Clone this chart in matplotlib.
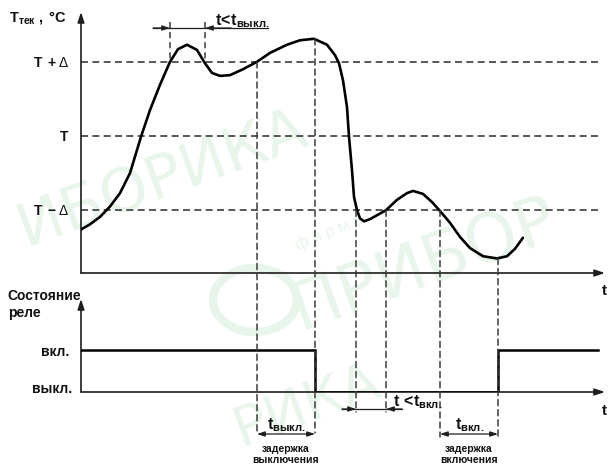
import matplotlib
matplotlib.use('Agg')
import matplotlib.pyplot as plt
from matplotlib.patches import ConnectionPatch, Circle

plt.rcParams['font.family'] = ['Liberation Sans', 'DejaVu Sans']
plt.rcParams['mathtext.fontset'] = 'custom'
plt.rcParams['mathtext.rm'] = 'Liberation Sans'
plt.rcParams['mathtext.bf'] = 'Liberation Sans:bold'
plt.rcParams['mathtext.it'] = 'Liberation Sans:italic'

# ---------------- data ----------------
# temperature curve: time (arb. units), temperature in units of delta around setpoint T
curve_t = [0.0, 0.9, 1.9, 2.9, 3.9, 4.9, 6.0, 6.9, 7.9, 8.9, 9.7, 10.6, 11.6, 12.4,
           13.1, 13.9, 14.9, 16.2, 17.6, 18.9, 20.6, 21.9, 23.3, 24.6, 25.4, 25.8,
           26.2, 26.6, 26.8, 27.1, 27.3, 27.6, 27.9, 28.3, 28.9, 29.7, 30.5, 31.6,
           32.6, 33.2, 34.2, 35.1, 35.9, 36.9, 37.9, 38.9, 40.2, 41.6, 42.6, 43.4, 44.2]
curve_T = [-1.26, -1.19, -1.09, -0.95, -0.77, -0.50, -0.01, 0.35, 0.69, 1.00, 1.17,
           1.23, 1.16, 0.98, 0.85, 0.81, 0.82, 0.90, 1.00, 1.12, 1.23, 1.29, 1.31,
           1.23, 1.09, 0.98, 0.75, 0.39, -0.01, -0.46, -0.82, -1.00, -1.11, -1.15,
           -1.12, -1.06, -1.00, -0.86, -0.77, -0.74, -0.78, -0.89, -1.01, -1.17,
           -1.36, -1.51, -1.62, -1.65, -1.62, -1.52, -1.37]

levels = [1, 0, -1]
level_labels = [r'$\mathbf{T\ +}\mathrm{Δ}$', r'$\mathbf{T}$', r'$\mathbf{T\ -}\mathrm{Δ}$']

relay_t = [0, 23.4, 23.4, 41.7, 41.7, 51.7]
relay_state = [1, 1, 0, 0, 1, 1]
state_labels = ['вкл.', 'выкл.']

# event times and temperature at which the dashed marker starts
marker_t = [17.6, 23.4, 27.5, 30.5, 35.9, 41.7]
marker_T = [1.0, 1.31, -1.0, -1.0, -1.0, -1.65]
short_t = [8.9, 12.4]          # short overshoot above T+delta (no switching)

# ---------------- figure ----------------
W, H = 610, 465
fig = plt.figure(figsize=(W / 100, H / 100), dpi=100)
fig.patch.set_facecolor('white')


def P(x, y):
    return x / W, 1 - y / H


def add_axes_px(x0, y0, x1, y1):
    return fig.add_axes([x0 / W, 1 - y1 / H, (x1 - x0) / W, (y1 - y0) / H])


AX_COL = '#1e1e1e'
DASH_COL = '#3c3c3c'
DASH = (0, (4.2, 2.6))

# watermark (faint, behind everything)
wm = '#e8f5ea'
wkw = dict(color=wm, rotation=20, rotation_mode='anchor', family='DejaVu Sans',
           zorder=-5)
fig.text(*P(26, 246), 'ИБОРИКА', fontsize=44, **wkw)
fig.text(*P(300, 330), 'ПРИБОР', fontsize=48, **wkw)
fig.text(*P(240, 446), 'РИКА', fontsize=40, **wkw)
fig.text(*P(298, 250), 'ф и р м а', fontsize=12, color=wm, rotation=22,
         rotation_mode='anchor', zorder=-5)
fig.patches.append(Circle(P(255, 300), 42 / W, transform=fig.transFigure,
                          fill=False, ec=wm, lw=6, zorder=-5))

# top axes: temperature
ax1 = add_axes_px(81, 12, 605, 273)
ax1.set_xlim(0, 52.4)
ax1.set_ylim(-1.846, 1.671)
ax1.axis('off')
ax1.patch.set_alpha(0)

# bottom axes: relay state
ax2 = add_axes_px(81, 299, 605, 392)
ax2.set_xlim(0, 52.4)
ax2.set_ylim(0, 2.214)
ax2.axis('off')
ax2.patch.set_alpha(0)


def arrow(ax, x0, y0, x1, y1, style='-|>', hl=0.6, hw=0.2, lw=1.2, col=AX_COL):
    ax.annotate('', xy=(x1, y1), xytext=(x0, y0), annotation_clip=False,
                arrowprops=dict(arrowstyle=f'{style},head_length={hl},head_width={hw}',
                                lw=lw, color=col, shrinkA=0, shrinkB=0,
                                mutation_scale=10))


# axes with arrows
yb1 = ax1.get_ylim()[0]
arrow(ax1, 0, yb1, 0, ax1.get_ylim()[1])
arrow(ax1, 0, yb1, 52.4, yb1)
arrow(ax2, 0, 0, 0, 2.214)
arrow(ax2, 0, 0, 52.4, 0)

# horizontal threshold lines
for lvl in levels:
    ax1.plot([0, 51.7], [lvl, lvl], color=DASH_COL, lw=1.2, linestyle=DASH, zorder=2)

# temperature curve
ax1.plot(curve_t, curve_T, color='black', lw=1.9, solid_joinstyle='round',
         solid_capstyle='round', zorder=4)

# relay state
ax2.plot(relay_t, relay_state, color='black', lw=1.8, zorder=4,
         solid_joinstyle='miter')

# vertical dashed event markers running down into the relay chart
lower_ends = [-0.976, -0.976, -0.476, -0.476, -1.07, -1.07]
for t, Tv, yl in zip(marker_t, marker_T, lower_ends):
    con = ConnectionPatch(xyA=(t, Tv), coordsA=ax1.transData,
                          xyB=(t, yl), coordsB=ax2.transData,
                          color=DASH_COL, lw=1.1, linestyle=(0, (4.0, 2.6)), zorder=1)
    fig.add_artist(con)

for t in short_t:
    ax1.plot([t, t], [1.54, 1.0], color=DASH_COL, lw=1.1, linestyle=(0, (4.0, 2.6)),
             zorder=2, clip_on=False)

# top short-overshoot annotation
ya = 1.455
ax1.plot([7.2, 18.7], [ya, ya], color=AX_COL, lw=0.9, clip_on=False)
arrow(ax1, 7.2, ya, short_t[0], ya, hl=0.45, hw=0.15, lw=0.9)
arrow(ax1, 15.0, ya, short_t[1], ya, hl=0.45, hw=0.15, lw=0.9)

# bottom short-undershoot annotation
yb = -0.405
ax2.plot([26.1, 32.1], [yb, yb], color=AX_COL, lw=0.9, clip_on=False)
arrow(ax2, 26.1, yb, marker_t[2], yb, hl=0.45, hw=0.15, lw=0.9)
arrow(ax2, 32.1, yb, marker_t[3], yb, hl=0.45, hw=0.15, lw=0.9)

# delay double arrows
yd = -1.0
arrow(ax2, marker_t[0], yd, marker_t[1], yd, style='<|-|>', hl=0.45, hw=0.15, lw=0.9)
arrow(ax2, marker_t[4], yd, marker_t[5], yd, style='<|-|>', hl=0.45, hw=0.15, lw=0.9)

# ---------------- texts ----------------
TXT = '#111111'
fig.text(*P(9, 22), r'$\mathbf{T}_{\mathbf{тек}}\mathbf{\ ,\ °C}$', fontsize=10.5,
         color=TXT, va='baseline', ha='left')
for lbl, by in zip(level_labels, [67, 141, 215]):
    fig.text(*P(69, by), lbl, fontsize=10, color=TXT, va='baseline', ha='right')

fig.text(*P(7, 300), 'Состояние', fontsize=10, weight='bold', color=TXT, va='baseline')
fig.text(*P(8, 317), 'реле', fontsize=10, weight='bold', color=TXT, va='baseline')
for lbl, bx, by in zip(state_labels, [69, 72], [356, 393]):
    fig.text(*P(bx, by), lbl, fontsize=10, weight='bold', color=TXT, va='baseline',
             ha='right')

fig.text(*P(604, 295), 't', fontsize=11, weight='bold', color=TXT, va='baseline',
         ha='center')
fig.text(*P(604, 415), 't', fontsize=11, weight='bold', color=TXT, va='baseline',
         ha='center')

fig.text(*P(215, 25), r'$\mathbf{t}\!\mathbf{<}\!\mathbf{t}_{\mathbf{выкл.}}$',
         fontsize=11.5, color=TXT, va='baseline')
fig.text(*P(393, 406), r'$\mathbf{t\ }\!\mathbf{<}\!\mathbf{t}_{\mathbf{вкл.}}$',
         fontsize=11.5, color=TXT, va='baseline')
fig.text(*P(267, 429), r'$\mathbf{t}_{\mathbf{выкл.}}$', fontsize=11.5, color=TXT,
         va='baseline')
fig.text(*P(455, 429), r'$\mathbf{t}_{\mathbf{вкл.}}$', fontsize=11.5, color=TXT,
         va='baseline')

fig.text(*P(286, 452), 'задержка', fontsize=7.5, weight='bold', color=TXT,
         va='baseline', ha='center')
fig.text(*P(286, 463), 'выключения', fontsize=7.5, weight='bold', color=TXT,
         va='baseline', ha='center')
fig.text(*P(469, 452), 'задержка', fontsize=7.5, weight='bold', color=TXT,
         va='baseline', ha='center')
fig.text(*P(469, 463), 'включения', fontsize=7.5, weight='bold', color=TXT,
         va='baseline', ha='center')

fig.savefig('out.png', dpi=100)
